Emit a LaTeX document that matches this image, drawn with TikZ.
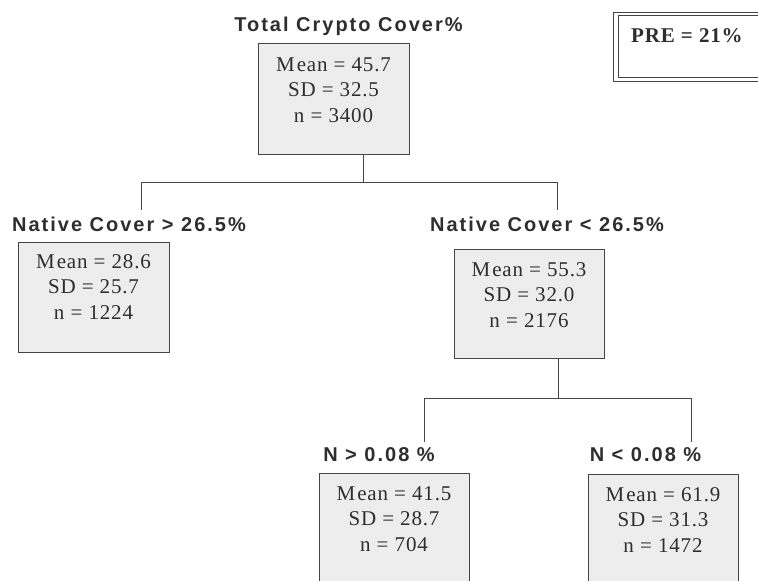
\documentclass[tikz,border=0pt]{standalone}
\usepackage{fontspec}
\setmainfont{Liberation Serif}
\newfontfamily\labfont[LetterSpace=10]{Liberation Sans}
\newfontfamily\boxfont[LetterSpace=4]{Liberation Serif}
\newfontfamily\prefont[LetterSpace=4]{Liberation Serif}
\usetikzlibrary{positioning}
\definecolor{ink}{HTML}{2E2E2E}
\definecolor{edge}{HTML}{444444}
\definecolor{boxfill}{HTML}{EDEDED}
\tikzset{
  databox/.style={draw=edge, line width=1.1pt, fill=boxfill, rectangle, inner sep=0pt, anchor=north west},
  boxtext/.style={text=ink, align=center, inner sep=0pt, anchor=north, font=\boxfont\fontsize{21}{25.5}\selectfont},
  splitlabel/.style={text=ink, inner sep=0pt, anchor=base, font=\labfont\bfseries\fontsize{20}{24}\selectfont},
  link/.style={draw=edge, line width=0.9pt},
}
\begin{document}
\begin{tikzpicture}[x=1pt, y=-1pt]
\useasboundingbox (0,0) rectangle (758,581);
\clip (0,0) rectangle (758,581);
% PRE box
\draw[edge, line width=0.9pt] (613,12) rectangle (775,81);
\draw[edge, line width=0.9pt] (618,15.5) rectangle (775,77);
\node[text=ink, inner sep=0pt, anchor=base west, font=\prefont\bfseries\fontsize{21}{25}\selectfont] (pre) at (631,42) {PRE = 21\%};
% root
\node[splitlabel] (l0) at (348.5,31) {Total Crypto Cover\%};
\node[databox, minimum width=151pt, minimum height=111pt] (b0) at (258,43) {};
\node[boxtext] (t0) at (333.5,57) {M\kern2pt ean = 45.7\\SD = 32.5\\n = 3400};
% level 1
\node[splitlabel] (l1) at (129,231) {Native Cover > 26.5\%};
\node[databox, minimum width=151pt, minimum height=110pt] (b1) at (18,242) {};
\node[boxtext] (t1) at (93.5,254) {M\kern2pt ean = 28.6\\SD = 25.7\\n = 1224};
\node[splitlabel] (l2) at (547,231) {Native Cover < 26.5\%};
\node[databox, minimum width=150pt, minimum height=109pt] (b2) at (454,249) {};
\node[boxtext] (t2) at (529,262) {M\kern2pt ean = 55.3\\SD = 32.0\\n = 2176};
% level 2
\node[splitlabel] (l3) at (379,461) {N > 0.08 \%};
\node[databox, minimum width=150pt, minimum height=130pt] (b3) at (319,473) {};
\node[boxtext] (t3) at (394,486) {M\kern2pt ean = 41.5\\SD = 28.7\\n = 704};
\node[splitlabel] (l4) at (645.5,461) {N < 0.08 \%};
\node[databox, minimum width=150pt, minimum height=130pt] (b4) at (588,474) {};
\node[boxtext] (t4) at (663,487) {M\kern2pt ean = 61.9\\SD = 31.3\\n = 1472};
% connectors
\coordinate (r0) at (363,182);
\coordinate (e1) at (141,210);
\coordinate (e2) at (557,210);
\draw[link] (b0.south -| r0) -- (r0);
\draw[link] (r0) -| (e1);
\draw[link] (r0) -| (e2);
\coordinate (r1) at (558,398);
\coordinate (e3) at (424,442);
\coordinate (e4) at (691,442);
\draw[link] (b2.south -| r1) -- (r1);
\draw[link] (r1) -| (e3);
\draw[link] (r1) -| (e4);
\end{tikzpicture}
\end{document}
